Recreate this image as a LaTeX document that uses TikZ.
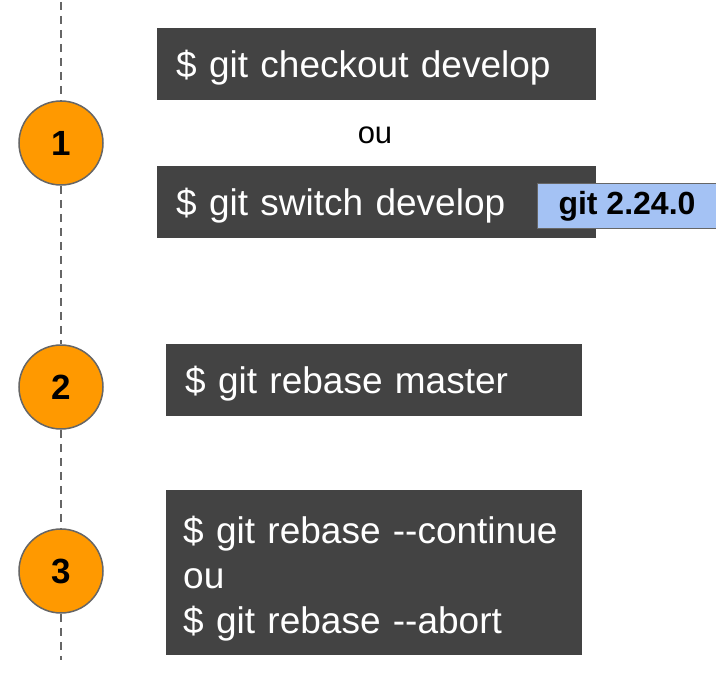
\documentclass[tikz,border=0pt]{standalone}
\usepackage{fontspec}
\setmainfont{Liberation Sans}
\usetikzlibrary{positioning}

\definecolor{cmdgray}{HTML}{434343}
\definecolor{steporange}{HTML}{FF9900}
\definecolor{tagblue}{HTML}{A4C2F4}
\definecolor{linegray}{HTML}{666666}

\tikzset{
  cmdbox/.style={fill=cmdgray, text=white, anchor=north west, inner xsep=19pt,
    font=\fontsize{37}{45}\selectfont, align=left, text depth=0pt},
  stepcircle/.style={circle, fill=steporange, draw=linegray, line width=1.5pt,
    minimum size=84pt, inner sep=0pt, font=\fontsize{35}{38}\bfseries},
  versiontag/.style={fill=tagblue, draw=linegray, line width=1pt, anchor=north west,
    minimum width=179pt, minimum height=45pt, font=\fontsize{32}{34}\bfseries},
  timeline/.style={linegray, line width=1.6pt, dash pattern=on 8pt off 6pt}
}

\begin{document}
\begin{tikzpicture}[x=1pt, y=-1pt]

\useasboundingbox (0,0) rectangle (716,685);

% Steps along the time line
\node[stepcircle] (s1) at (61,143) {1};
\node[stepcircle] (s2) at (61,387) {2};
\node[stepcircle] (s3) at (61,571) {3};

% Ends of the time line
\coordinate (top) at (61,2);
\coordinate (bottom) at (61,660);

% Draw the dashed time line
\draw[timeline] (top) -- (s1);
\draw[timeline] (s1) -- (s2);
\draw[timeline] (s2) -- (s3);
\draw[timeline] (s3) -- (bottom);

% Commands for step 1
\node[cmdbox, minimum width=439pt, minimum height=72pt, text width=401pt] (checkout) at (157,28) {\$ git checkout develop};
\node[font=\fontsize{31}{34}\selectfont] (or1) at (375,135) {ou};
\node[cmdbox, minimum width=439pt, minimum height=72pt, text width=401pt] (switch) at (157,166) {\$ git switch develop};
\node[versiontag] (tag) at (537,183) {git 2.24.0};

% Command for step 2
\node[cmdbox, minimum width=416pt, minimum height=72pt, text width=378pt] (rebase) at (166,344) {\$ git rebase master};

% Commands for step 3
\node[cmdbox, minimum width=416pt, minimum height=165pt, inner xsep=17pt, text width=382pt, text depth=86pt] (resolve) at (166,490) {\$ git rebase -{}-continue\\ou\\\$ git rebase -{}-abort};

\end{tikzpicture}
\end{document}
